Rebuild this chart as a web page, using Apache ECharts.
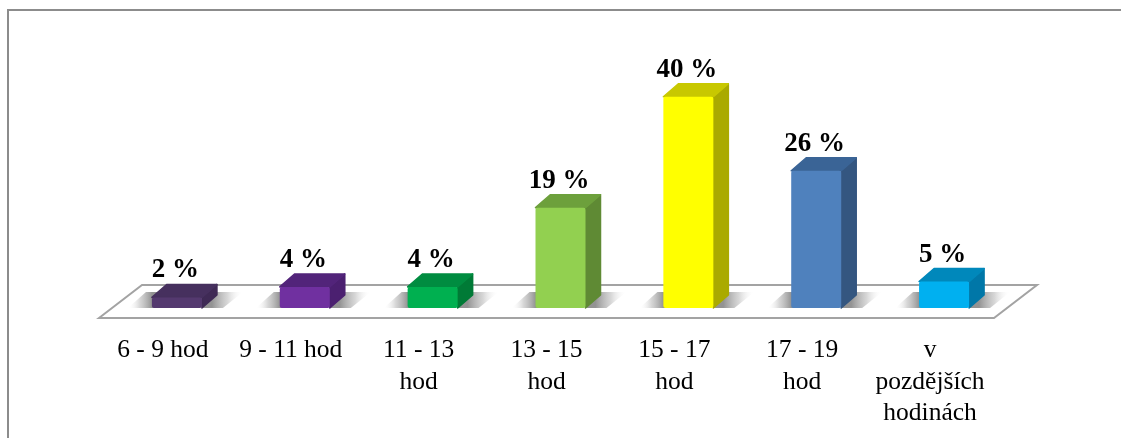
<!DOCTYPE html>
<html>
<head>
<meta charset="utf-8">
<style>html,body{margin:0;padding:0;background:#fff}#chart{width:1121px;height:438px}</style>
<script src="https://cdn.jsdelivr.net/npm/echarts@6/dist/echarts.min.js"></script>
</head>
<body>
<div id="chart"></div>
<script>
// Hours of the day, share of responses per time band
const categories = ['6 - 9 hod', '9 - 11 hod', '11 - 13\nhod', '13 - 15\nhod', '15 - 17\nhod', '17 - 19\nhod', 'v\npozdějších\nhodinách'];
const shares = [2, 4, 4, 19, 40, 26, 5];

// Front, top and side faces of each column
const frontColors = ['#54396f', '#7030a0', '#00b050', '#92d050', '#ffff00', '#4f81bd', '#00b0f0'];
const topColors = ['#46305e', '#52247a', '#008c40', '#6da03c', '#c8c800', '#3a6496', '#0088bb'];
const sideColors = ['#3f2a55', '#4b2070', '#007a36', '#5f8a34', '#aaaa00', '#345680', '#0077a8'];

const FONT = '"Liberation Serif", "Times New Roman", serif';
const DEPTH_X = 15, DEPTH_Y = 13;       // receding offset of a column
const BAR_W = 50;                       // width of the front face
const BASE_LIFT = 10, BASE_SHIFT = 14;  // column foot relative to the floor's front edge
const FLOOR_X = 43, FLOOR_Y = 33;       // slant of the floor plate

function renderFloor(params, api) {
  const cs = params.coordSys;
  const y = api.coord([0, 0])[1];
  const l = cs.x, r = cs.x + cs.width;
  return {
    type: 'polygon',
    shape: { points: [[l, y], [l + FLOOR_X, y - FLOOR_Y], [r + FLOOR_X, y - FLOOR_Y], [r, y]] },
    style: { fill: '#fff', stroke: '#a3a3a3', lineWidth: 2 }
  };
}

// Soft cast shadow on the floor, left of and behind each column
function renderShadow(params, api) {
  const p = api.coord([api.value(0), 0]);
  const x0 = p[0] + BASE_SHIFT - BAR_W / 2;
  const y0 = p[1] - BASE_LIFT;
  const top = y0 - DEPTH_Y - 3;
  const x1 = x0 + BAR_W + DEPTH_X;
  const fade = (a, b) => ({
    type: 'linear', x: a, y: 0, x2: b, y2: 0, global: true,
    colorStops: [
      { offset: 0, color: 'rgba(120,120,120,0.8)' },
      { offset: 0.5, color: 'rgba(175,175,175,0.5)' },
      { offset: 1, color: 'rgba(255,255,255,0)' }
    ]
  });
  return {
    type: 'group',
    children: [
      { type: 'polygon', shape: { points: [[x0 + 12, top], [x0 + 12, y0], [x0 - 24, y0], [x0 - 6, top]] }, style: { fill: fade(x0, x0 - 24) } },
      { type: 'polygon', shape: { points: [[x0 + BAR_W, y0], [x1, top], [x1 + 26, top], [x1 + 6, y0]] }, style: { fill: fade(x0 + BAR_W + 10, x1 + 26) } }
    ]
  };
}

function renderColumn(params, api) {
  const i = params.dataIndex;
  const v = api.value(1);
  const foot = api.coord([api.value(0), 0]);
  const head = api.coord([api.value(0), v]);
  const x0 = foot[0] + BASE_SHIFT - BAR_W / 2, x1 = x0 + BAR_W;
  const yb = foot[1] - BASE_LIFT, yt = head[1] - BASE_LIFT;
  const face = (c) => ({ fill: c, stroke: c, lineWidth: 1.5, lineJoin: 'round' });
  return {
    type: 'group',
    children: [
      { type: 'polygon', shape: { points: [[x1, yb], [x1 + DEPTH_X, yb - DEPTH_Y], [x1 + DEPTH_X, yt - DEPTH_Y], [x1, yt]] }, style: face(sideColors[i]) },
      { type: 'polygon', shape: { points: [[x0, yt], [x0 + DEPTH_X, yt - DEPTH_Y], [x1 + DEPTH_X, yt - DEPTH_Y], [x1, yt]] }, style: face(topColors[i]) },
      { type: 'rect', shape: { x: x0, y: yt, width: BAR_W, height: yb - yt, r: 2 }, style: { fill: frontColors[i] } },
      { type: 'text', style: { text: v + ' %', x: (x0 + x1) / 2 - 1.5, y: yt - DEPTH_Y - 14, align: 'center', verticalAlign: 'middle', font: 'bold 27px ' + FONT, fill: '#000' } }
    ]
  };
}

const chart = echarts.init(document.getElementById('chart'), null, { renderer: 'canvas' });
const rows = shares.map((v, i) => [i, v]);
chart.setOption({
  animation: false,
  graphic: [{
    type: 'polyline', silent: true,
    shape: { points: [[8, 438], [8, 10], [1121, 10]] },
    style: { fill: 'none', stroke: '#8c8c8c', lineWidth: 2 }
  }],
  grid: { left: 99, top: 54, width: 895, height: 264 },
  xAxis: {
    type: 'category', data: categories,
    axisLine: { show: false }, axisTick: { show: false }, splitLine: { show: false },
    axisLabel: { interval: 0, margin: 17, fontFamily: FONT, fontSize: 25.5, color: '#000', lineHeight: 31.5, verticalAlign: 'top' }
  },
  yAxis: { type: 'value', min: 0, max: 50, show: false, splitLine: { show: false } },
  series: [
    { type: 'custom', data: [[0, 0]], renderItem: renderFloor, clip: false, silent: true, z: 1 },
    { type: 'custom', data: rows, renderItem: renderShadow, clip: false, silent: true, z: 2 },
    { type: 'custom', data: rows, renderItem: renderColumn, clip: false, silent: true, z: 3 }
  ]
});
</script>
</body>
</html>
